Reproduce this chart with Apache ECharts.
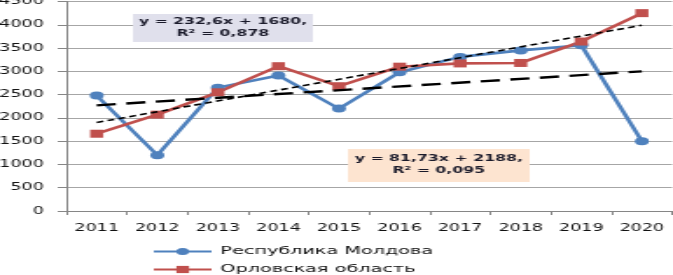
<!DOCTYPE html>
<html><head><meta charset="utf-8">
<script src="https://cdn.jsdelivr.net/npm/echarts@6/dist/echarts.min.js"></script>
<style>
html,body{margin:0;padding:0;background:#fff;overflow:hidden;width:673px;height:275px;}
#c{width:385px;height:275px;transform:scaleX(1.748);transform-origin:0 0;}
</style></head><body>
<div id="c"></div>
<script>
const years = ['2011','2012','2013','2014','2015','2016','2017','2018','2019','2020'];
const moldova = [2480, 1200, 2650, 2910, 2200, 2980, 3310, 3450, 3560, 1500];
const orel = [1660, 2070, 2550, 3110, 2680, 3100, 3170, 3180, 3640, 4250];
const moldovaTrendEnds = [2270, 3000];
const orelTrendEnds = [1900, 3990];
const yTicks = [0, 500, 1000, 1500, 2000, 2500, 3000, 3500, 4000, 4500];
const names = ['Республика Молдова', 'Орловская область'];
const eq1 = ['y = 232,6x + 1680,', 'R² = 0,878'];
const eq2 = ['y = 81,73x + 2188,', 'R² = 0,095'];

const chart = echarts.init(document.getElementById('c'), null, {renderer:'canvas'});
const F = 'DejaVu Sans';
chart.setOption({
  animation:false,
  grid:{left:38, right:0.5, top:1.5, bottom:64, containLabel:false, outerBoundsMode:'none'},
  legend:{
    data:names, orient:'vertical', left:87, top:246, padding:0, itemWidth:33, itemHeight:9, itemGap:7,
    textStyle:{fontFamily:F, fontSize:11, color:'#111'}
  },
  xAxis:{
    type:'category', data:years, boundaryGap:true,
    axisLine:{lineStyle:{color:'#868686', width:1}},
    axisTick:{show:true, length:4, lineStyle:{color:'#868686'}},
    axisLabel:{fontFamily:F, fontSize:10, color:'#111', margin:12, interval:0}
  },
  yAxis:{
    type:'value', min:yTicks[0], max:yTicks[yTicks.length-1], interval:500,
    axisLine:{show:true, lineStyle:{color:'#868686', width:1}},
    axisTick:{show:true, length:5, lineStyle:{color:'#868686'}},
    axisLabel:{fontFamily:F, fontSize:10, color:'#111', margin:13, formatter:v => String(v)},
    splitLine:{lineStyle:{color:'#a6a6a6', width:1}}
  },
  series:[
    {name:names[0], type:'line', data:moldova, symbol:'circle', symbolSize:8,
     lineStyle:{color:'#4f81bd', width:2.6}, itemStyle:{color:'#4f81bd'}, z:3},
    {name:names[1], type:'line', data:orel, symbol:'rect', symbolSize:[7.5,8],
     lineStyle:{color:'#c0504d', width:2.6}, itemStyle:{color:'#c0504d'}, z:3},
    {name:'trend1', type:'line', symbol:'none', silent:true, z:4,
     data:[[years[0], moldovaTrendEnds[0]], [years[years.length-1], moldovaTrendEnds[1]]],
     lineStyle:{color:'#000', width:2.4, type:[11,6]}},
    {name:'trend2', type:'line', symbol:'none', silent:true, z:4,
     data:[[years[0], orelTrendEnds[0]], [years[years.length-1], orelTrendEnds[1]]],
     lineStyle:{color:'#000', width:1.6, type:[4,2.5]}}
  ],
  graphic:[
    {type:'rect', x:76, y:14, shape:{x:0, y:0, width:103, height:28}, style:{fill:'#e0e0ec'}, z:10},
    {type:'text', x:127.5, y:28, z:11,
     style:{text:eq1.join('\n'), align:'center', verticalAlign:'middle', fontFamily:F, fontWeight:'bold', fontSize:9, lineHeight:12, fill:'#1a1a2a'}},
    {type:'rect', x:199, y:149, shape:{x:0, y:0, width:104, height:33}, style:{fill:'#fde4d0'}, z:10},
    {type:'text', x:251, y:165, z:11,
     style:{text:eq2.join('\n'), align:'center', verticalAlign:'middle', fontFamily:F, fontWeight:'bold', fontSize:9, lineHeight:12, fill:'#1a1a2a'}}
  ]
});
</script>
</body></html>
